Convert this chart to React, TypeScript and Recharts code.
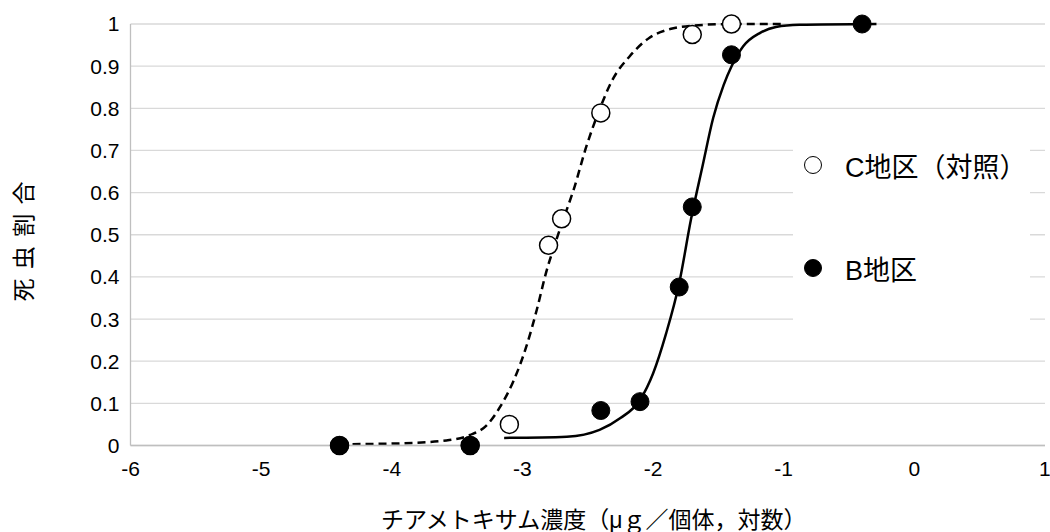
import {
  CartesianGrid,
  ComposedChart,
  Legend,
  Line,
  Scatter,
  XAxis,
  YAxis,
} from "recharts";

// observed points (x = log10 dose, y = mortality)
const C_X = [-4.4, -3.4, -3.1, -2.8, -2.7, -2.4, -1.7, -1.4];
const C_Y = [0, 0, 0.05, 0.475, 0.538, 0.789, 0.975, 1.0];

const B_X = [-4.4, -3.4, -2.4, -2.1, -1.8, -1.7, -1.4, -0.4];
const B_Y = [0, 0, 0.083, 0.104, 0.376, 0.566, 0.927, 1.0];

// fitted curves
const C_FIT_X = [
  -4.4, -3.94, -3.56, -3.4, -3.27, -3.17, -3.07, -2.97, -2.89, -2.82, -2.74,
  -2.66, -2.61, -2.51, -2.41, -2.31, -2.18, -2.03, -1.87, -1.7, -1.4, -1.0,
];
const C_FIT_Y = [
  0.003, 0.005, 0.013, 0.025, 0.049, 0.092, 0.152, 0.235, 0.322, 0.409, 0.488,
  0.56, 0.605, 0.71, 0.797, 0.868, 0.923, 0.967, 0.988, 0.996, 1.0, 1.0,
];

const B_FIT_X = [
  -3.14, -2.66, -2.41, -2.25, -2.1, -2.0, -1.9, -1.8, -1.71, -1.62, -1.54,
  -1.46, -1.4, -1.31, -1.18, -1.06, -0.88, -0.29,
];
const B_FIT_Y = [
  0.018, 0.021, 0.037, 0.065, 0.108, 0.171, 0.266, 0.385, 0.536, 0.665, 0.777,
  0.855, 0.899, 0.947, 0.979, 0.993, 0.998, 1.0,
];

const X_TICKS = [-6, -5, -4, -3, -2, -1, 0, 1];
const Y_TICKS = [0, 0.1, 0.2, 0.3, 0.4, 0.5, 0.6, 0.7, 0.8, 0.9, 1];

const C_NAME = "C地区（対照）";
const B_NAME = "B地区";
const X_TITLE = "チアメトキサム濃度（μｇ／個体，対数）";
const Y_TITLE = "死 虫 割 合";

const toPoints = (xs: number[], ys: number[]) =>
  xs.map((x, i) => ({ x, y: ys[i] }));

const cData = toPoints(C_X, C_Y);
const bData = toPoints(B_X, B_Y);
const cFit = toPoints(C_FIT_X, C_FIT_Y);
const bFit = toPoints(B_FIT_X, B_FIT_Y);

const FONT = "'Liberation Sans', 'Noto Sans CJK JP', sans-serif";

const OpenDot = (p: any) => (
  <circle cx={p.cx} cy={p.cy} r={9} fill="#fff" stroke="#000" strokeWidth={1.5} />
);

const FilledDot = (p: any) => (
  <circle cx={p.cx} cy={p.cy} r={9} fill="#000" stroke="#000" strokeWidth={1} />
);

function LegendBox() {
  const rows = [
    { name: C_NAME, open: true, top: 23 },
    { name: B_NAME, open: false, top: 126 },
  ];

  return (
    <div style={{ position: "relative", width: "100%", height: "100%" }}>
      {rows.map((r) => (
        <div
          key={r.name}
          style={{
            position: "absolute",
            left: 10,
            top: r.top,
            height: 40,
            display: "flex",
            alignItems: "center",
            fontFamily: FONT,
            fontSize: 27,
            color: "#000",
            whiteSpace: "nowrap",
          }}
        >
          <svg width={20} height={20} style={{ marginRight: 22 }}>
            <circle
              cx={10}
              cy={10}
              r={8.5}
              fill={r.open ? "#fff" : "#000"}
              stroke="#000"
              strokeWidth={1}
            />
          </svg>
          {r.name}
        </div>
      ))}
    </div>
  );
}

export default function App() {
  const fmt = (v: number) => String(Number(v.toFixed(1)));

  return (
    <div style={{ width: 1050, height: 532, background: "#fff" }}>
      <style>{"body{margin:0}"}</style>

      <ComposedChart
        width={1050}
        height={532}
        margin={{ top: 24, right: 5, bottom: 0, left: 0 }}
      >
        <CartesianGrid vertical={false} stroke="#d9d9d9" strokeWidth={1.3} />

        <XAxis
          type="number"
          dataKey="x"
          domain={[-6, 1]}
          ticks={X_TICKS}
          height={86.5}
          tickLine={false}
          tickMargin={10}
          axisLine={{ stroke: "#bfbfbf", strokeWidth: 1.3 }}
          tick={{ fill: "#000", fontSize: 21, fontFamily: FONT }}
          label={{
            value: X_TITLE,
            position: "insideBottom",
            offset: 4,
            dx: 6,
            fill: "#000",
            fontSize: 23,
            fontFamily: FONT,
          }}
        />

        <YAxis
          type="number"
          dataKey="y"
          domain={[0, 1]}
          ticks={Y_TICKS}
          width={130.5}
          tickLine={false}
          tickMargin={5}
          tickFormatter={fmt}
          axisLine={{ stroke: "#bfbfbf", strokeWidth: 1.3 }}
          tick={{ fill: "#000", fontSize: 21, fontFamily: FONT }}
          label={(props: any) => {
            const vb = props.viewBox || {};
            const cx = (vb.x || 0) + 24;
            const cy = (vb.y || 0) + (vb.height || 0) / 2 + 6;
            return (
              <text
                x={cx}
                y={cy}
                transform={`rotate(-90 ${cx} ${cy})`}
                textAnchor="middle"
                dominantBaseline="central"
                fill="#000"
                fontSize={23}
                letterSpacing={1.5}
                fontFamily={FONT}
              >
                {Y_TITLE}
              </text>
            );
          }}
        />

        <Legend
          layout="vertical"
          align="center"
          verticalAlign="middle"
          wrapperStyle={{
            left: 793,
            top: 122,
            width: 237,
            height: 216,
            backgroundColor: "#fff",
          }}
          content={() => <LegendBox />}
        />

        <Line
          data={cFit}
          dataKey="y"
          type="monotone"
          stroke="#000"
          strokeWidth={2.5}
          strokeDasharray="8 5"
          dot={false}
          legendType="none"
          isAnimationActive={false}
        />

        <Line
          data={bFit}
          dataKey="y"
          type="monotone"
          stroke="#000"
          strokeWidth={2.5}
          dot={false}
          legendType="none"
          isAnimationActive={false}
        />

        <Scatter
          name={C_NAME}
          data={cData}
          dataKey="y"
          shape={OpenDot}
          isAnimationActive={false}
        />

        <Scatter
          name={B_NAME}
          data={bData}
          dataKey="y"
          shape={FilledDot}
          isAnimationActive={false}
        />
      </ComposedChart>
    </div>
  );
}
